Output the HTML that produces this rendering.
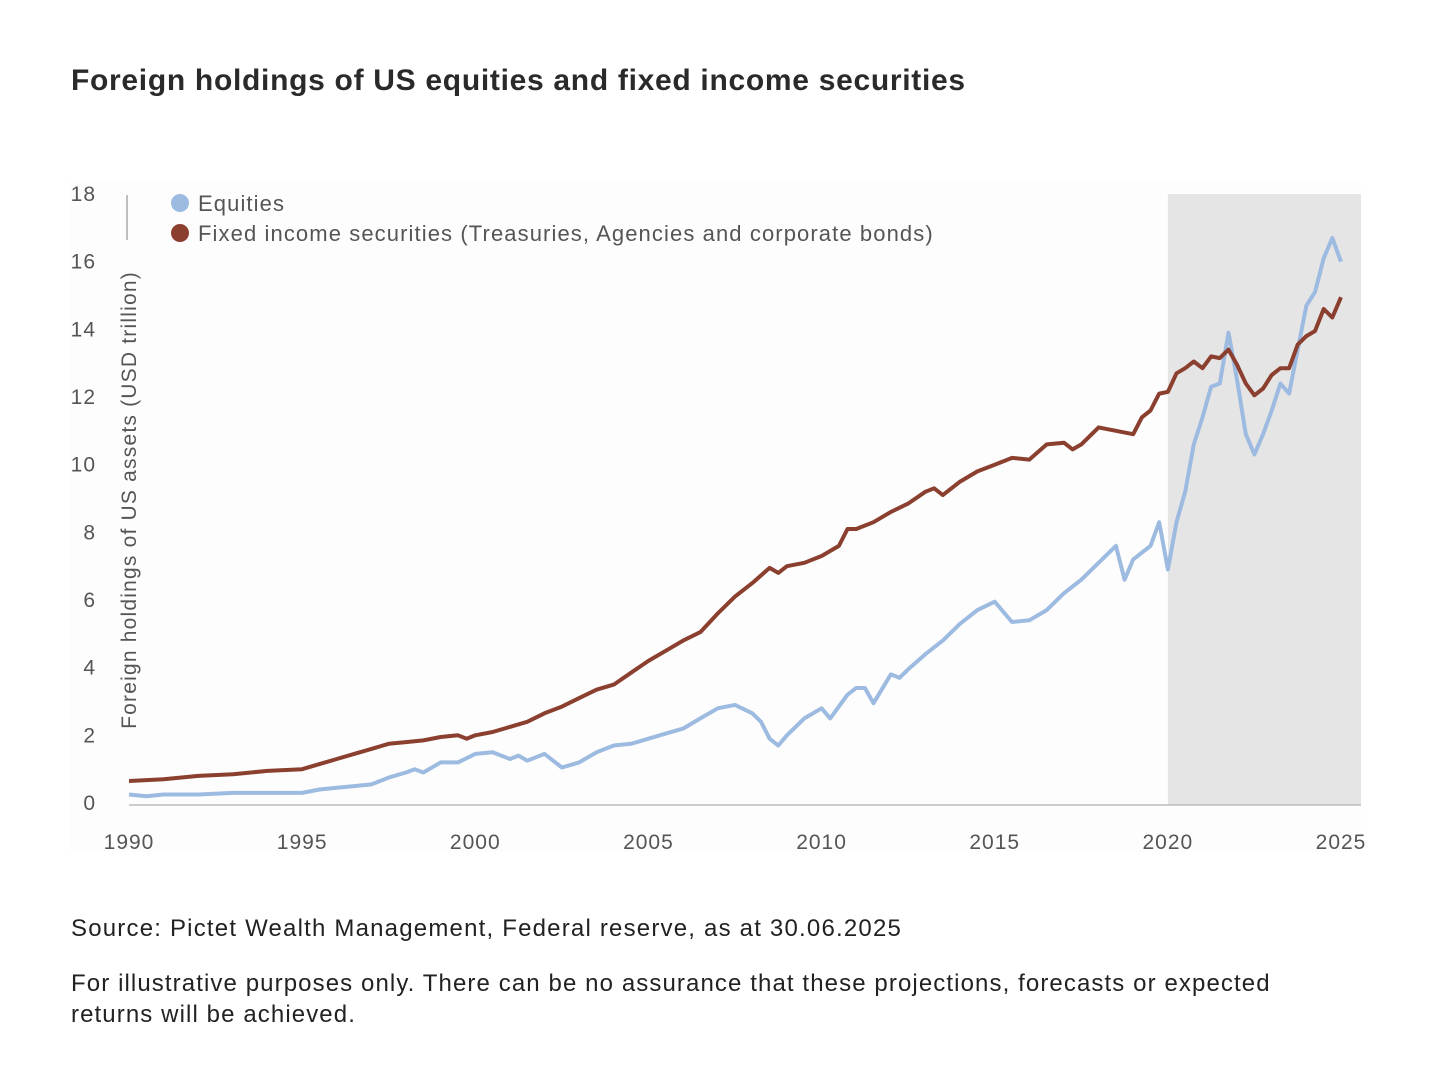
<!DOCTYPE html>
<html><head><meta charset="utf-8"><style>
body{margin:0;background:#fff;width:1456px;height:1074px;overflow:hidden;font-family:"Liberation Sans",sans-serif;color:#222}
.t{position:absolute;white-space:nowrap}
</style></head><body>
<div class="t" style="left:71px;top:64px;font-size:30px;font-weight:bold;color:#2a2a2a;letter-spacing:0.7px">Foreign holdings of US equities and fixed income securities</div>
<svg id="c" width="1456" height="1074" style="position:absolute;left:0;top:0"></svg>
<div class="t" style="left:71px;top:915px;font-size:24px;color:#222;letter-spacing:1.2px">Source: Pictet Wealth Management, Federal reserve, as at 30.06.2025</div>
<div class="t" style="left:71px;top:968px;font-size:24px;color:#222;line-height:31px;white-space:normal;width:1230px;letter-spacing:1.1px">For illustrative purposes only. There can be no assurance that these projections, forecasts or expected returns will be achieved.</div>
<script>
const eqYears=[1990,1990.5,1991,1992,1993,1994,1995,1995.5,1996,1996.5,1997,1997.5,1998,1998.25,1998.5,1999,1999.5,2000,2000.5,2001,2001.25,2001.5,2002,2002.5,2003,2003.5,2004,2004.5,2005,2005.5,2006,2006.5,2007,2007.5,2008,2008.25,2008.5,2008.75,2009,2009.5,2010,2010.25,2010.75,2011,2011.25,2011.5,2012,2012.25,2012.5,2013,2013.5,2014,2014.5,2015,2015.5,2016,2016.5,2017,2017.5,2018,2018.5,2018.75,2019,2019.5,2019.75,2020,2020.25,2020.5,2020.75,2021,2021.25,2021.5,2021.75,2022,2022.25,2022.5,2022.75,2023,2023.25,2023.5,2023.75,2024,2024.25,2024.5,2024.75,2025];
const eqValues=[0.25,0.2,0.25,0.25,0.3,0.3,0.3,0.4,0.45,0.5,0.55,0.75,0.9,1.0,0.9,1.2,1.2,1.45,1.5,1.3,1.4,1.25,1.45,1.05,1.2,1.5,1.7,1.75,1.9,2.05,2.2,2.5,2.8,2.9,2.65,2.4,1.9,1.7,2.0,2.5,2.8,2.5,3.2,3.4,3.4,2.95,3.8,3.7,3.95,4.4,4.8,5.3,5.7,5.95,5.35,5.4,5.7,6.2,6.6,7.1,7.6,6.6,7.2,7.6,8.3,6.9,8.3,9.2,10.6,11.4,12.3,12.4,13.9,12.5,10.9,10.3,10.9,11.6,12.4,12.1,13.4,14.7,15.1,16.1,16.7,16.0];
const fiYears=[1990,1991,1992,1993,1994,1995,1995.5,1996,1996.5,1997,1997.5,1998,1998.5,1999,1999.5,1999.75,2000,2000.5,2001,2001.5,2002,2002.5,2003,2003.5,2004,2004.5,2005,2005.5,2006,2006.5,2007,2007.5,2008,2008.5,2008.75,2009,2009.5,2010,2010.5,2010.75,2011,2011.5,2012,2012.5,2013,2013.25,2013.5,2014,2014.5,2015,2015.5,2016,2016.5,2017,2017.25,2017.5,2018,2018.5,2019,2019.25,2019.5,2019.75,2020,2020.25,2020.5,2020.75,2021,2021.25,2021.5,2021.75,2022,2022.25,2022.5,2022.75,2023,2023.25,2023.5,2023.75,2024,2024.25,2024.5,2024.75,2025];
const fiValues=[0.65,0.7,0.8,0.85,0.95,1.0,1.15,1.3,1.45,1.6,1.75,1.8,1.85,1.95,2.0,1.9,2.0,2.1,2.25,2.4,2.65,2.85,3.1,3.35,3.5,3.85,4.2,4.5,4.8,5.05,5.6,6.1,6.5,6.95,6.8,7.0,7.1,7.3,7.6,8.1,8.1,8.3,8.6,8.85,9.2,9.3,9.1,9.5,9.8,10.0,10.2,10.15,10.6,10.65,10.45,10.6,11.1,11.0,10.9,11.4,11.6,12.1,12.15,12.7,12.85,13.05,12.85,13.2,13.15,13.4,12.95,12.4,12.05,12.25,12.65,12.85,12.85,13.55,13.8,13.95,14.6,14.35,14.95];
const yTicks=[0,2,4,6,8,10,12,14,16,18];
const xTicks=[1990,1995,2000,2005,2010,2015,2020,2025];
const shadeStart=2020;
const NS="http://www.w3.org/2000/svg";
const svg=document.getElementById('c');
const X=y=>129+(y-1990)*(1341-129)/35;
const Y=v=>803-v*(609/18);
function el(t,a){const e=document.createElementNS(NS,t);for(const k in a)e.setAttribute(k,a[k]);svg.appendChild(e);return e;}
let bg=el('rect',{x:70,y:180,width:1291,height:672,fill:'#fdfdfd'});


let sh=el('rect',{x:X(shadeStart),y:Y(18),width:1361-X(shadeStart),height:Y(0)+2-Y(18),fill:'#e6e5e5'});


let ax=el('line',{x1:X(1990),x2:1361,y1:Y(0)+2,y2:Y(0)+2,stroke:'#bbb','stroke-width':1.5});


let vl=el('line',{x1:127,x2:127,y1:195,y2:240,stroke:'#aaa','stroke-width':1.5});


yTicks.forEach(v=>{let t=el('text',{x:96,y:Y(v)+7,'text-anchor':'end','font-size':21,fill:'#555','font-family':'Liberation Sans','letter-spacing':1});t.textContent=v;

});
xTicks.forEach(v=>{let t=el('text',{x:X(v),y:849,'text-anchor':'middle','font-size':21,fill:'#555','font-family':'Liberation Sans','letter-spacing':1});t.textContent=v;

});
let yt=el('text',{x:0,y:0,transform:'translate(136,500) rotate(-90)','text-anchor':'middle','font-size':21,fill:'#555','font-family':'Liberation Sans','letter-spacing':1.2});
yt.textContent='Foreign holdings of US assets (USD trillion)';


function line(xs,vs,c,n){let d=xs.map((x,i)=>(i?'L':'M')+X(x).toFixed(1)+','+Y(vs[i]).toFixed(1)).join('');
let p=el('path',{d:d,fill:'none',stroke:c,'stroke-width':4,'stroke-linejoin':'round'});

}
line(eqYears,eqValues,'#9dbbe0','equities-line');
line(fiYears,fiValues,'#8b3f2f','fixed-income-line');
[['Equities','#9dbbe0',203,'legend-equities'],['Fixed income securities (Treasuries, Agencies and corporate bonds)','#8b3f2f',233,'legend-fixed-income']].forEach(l=>{
let c=el('circle',{cx:180,cy:l[2],r:9,fill:l[1]});


let t=el('text',{x:198,y:l[2]+8,'font-size':22,fill:'#555','font-family':'Liberation Sans','letter-spacing':1.1});t.textContent=l[0];

});
</script>
</body></html>
